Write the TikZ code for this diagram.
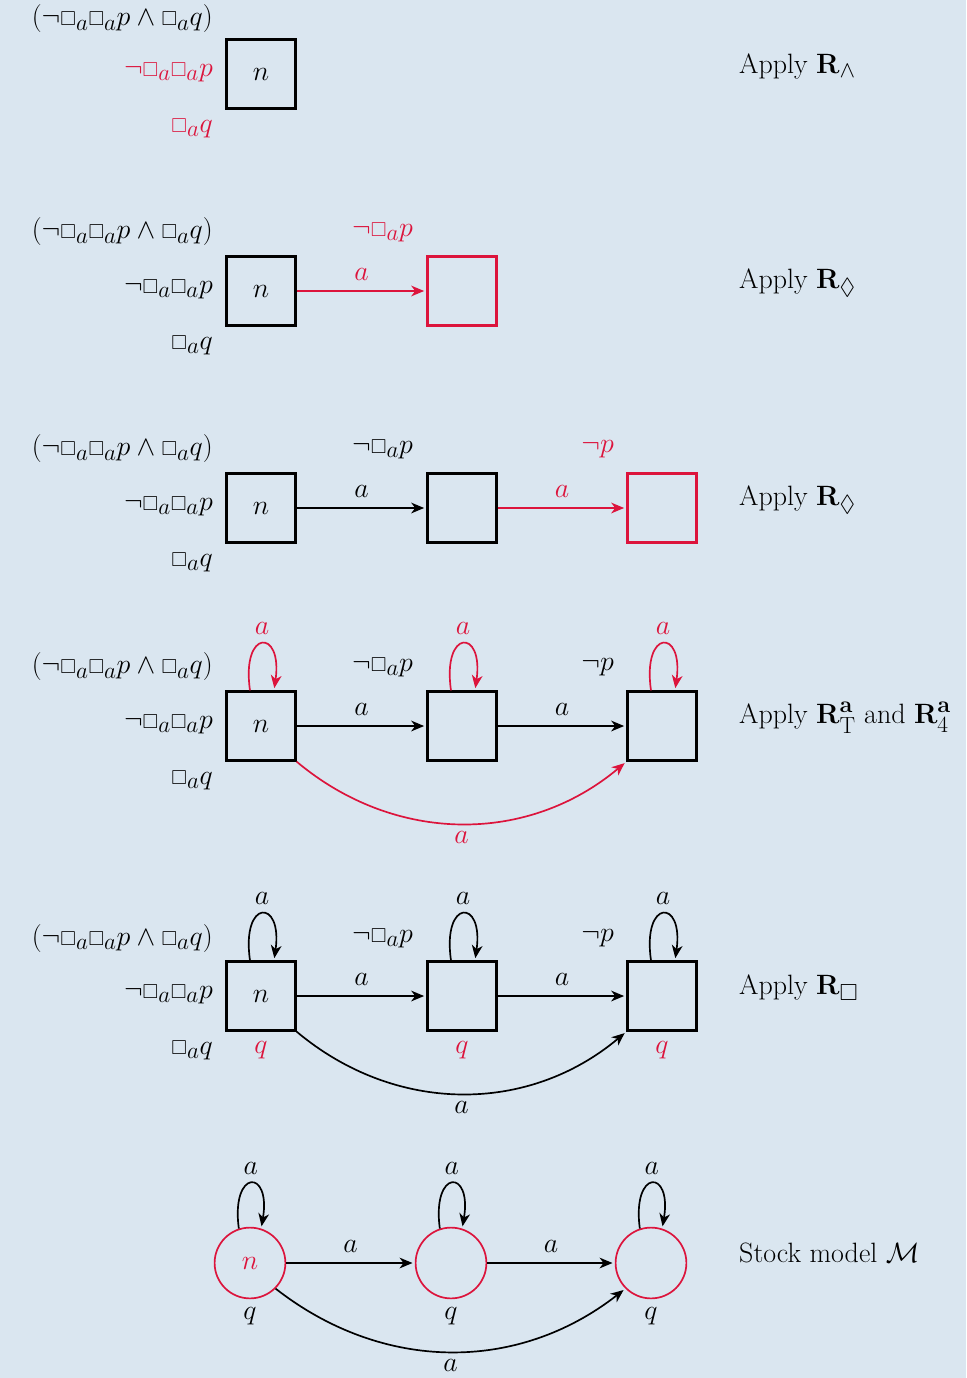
\documentclass[tikz,border=0pt]{standalone}
\usepackage{amsmath,amssymb}
\usepackage{graphicx}
\usetikzlibrary{arrows.meta,calc}
\definecolor{bg}{RGB}{218,230,240}
\definecolor{hl}{RGB}{220,20,60}
\newcommand{\bx}{\mathord{\scalebox{0.72}{$\Box$}}}
\tikzset{
  every node/.style={font=\fontsize{24.88}{30}\selectfont},
  st/.style={draw, line width=1.9pt, minimum size=61.5pt, inner sep=0pt},
  ci/.style={draw=hl, circle, line width=1.5pt, minimum size=63pt, inner sep=0pt},
  ar/.style={-{Stealth[length=11.5pt,width=9.5pt,inset=3.5pt]}, line width=1.5pt, shorten >=2pt},
  lbl/.style={inner sep=0pt},
  el/.style={inner sep=0pt, above=8.5pt},
  ll/.style={inner sep=0pt, pos=0.5, above=7.5pt},
  cl/.style={inner sep=0pt, pos=0.5, below=6.5pt},
}
\newcommand{\boxloop}[2]{\draw[ar,#2] ($(#1.north)+(-11,0)$) .. controls +(-9,62) and +(9,62) .. ($(#1.north)+(13,0)$) node[ll,text=#2] {$a$};}
\begin{document}
\begin{tikzpicture}[x=0.89pt,y=0.89pt]
\fill[bg] (0,0) rectangle (966,-1378);
\useasboundingbox (0,0) rectangle (966,-1378);

% ---- row 1
\node[st] (n1) at (261,-74) {$n$};
\node[lbl,anchor=east] (t1) at (213,-19) {$(\neg\bx_a\bx_a p\wedge\bx_a q)$};
\node[lbl,anchor=east,text=hl] (l1) at (213,-72) {$\neg\bx_a\bx_a p$};
\node[lbl,anchor=east,text=hl] (b1) at (213,-128) {$\bx_a q$};
\node[lbl,anchor=west] (ap1) at (739,-66) {Apply $\mathbf{R}_\wedge$};

% ---- row 2
\node[st] (n2) at (261,-291) {$n$};
\node[st,draw=hl] (m2) at (462,-291) {};
\node[lbl,anchor=east] (t2) at (213,-232) {$(\neg\bx_a\bx_a p\wedge\bx_a q)$};
\node[lbl,anchor=east] (l2) at (213,-289) {$\neg\bx_a\bx_a p$};
\node[lbl,anchor=east] (b2) at (213,-345) {$\bx_a q$};
\node[lbl,anchor=east,text=hl] (u2) at (413,-232) {$\neg\bx_a p$};
\draw[ar,hl] (n2) -- node[el,text=hl] {$a$} (m2);
\node[lbl,anchor=west] (ap2) at (739,-283) {Apply $\mathbf{R}_\Diamond$};

% ---- row 3
\node[st] (n3) at (261,-508) {$n$};
\node[st] (m3) at (462,-508) {};
\node[st,draw=hl] (r3) at (662,-508) {};
\node[lbl,anchor=east] (t3) at (213,-449) {$(\neg\bx_a\bx_a p\wedge\bx_a q)$};
\node[lbl,anchor=east] (l3) at (213,-506) {$\neg\bx_a\bx_a p$};
\node[lbl,anchor=east] (b3) at (213,-562) {$\bx_a q$};
\node[lbl,anchor=east] (u3) at (413,-449) {$\neg\bx_a p$};
\node[lbl,anchor=east,text=hl] (v3) at (614,-449) {$\neg p$};
\draw[ar] (n3) -- node[el] {$a$} (m3);
\draw[ar,hl] (m3) -- node[el,text=hl] {$a$} (r3);
\node[lbl,anchor=west] (ap3) at (739,-500) {Apply $\mathbf{R}_\Diamond$};

% ---- row 4
\node[st] (n4) at (261,-726) {$n$};
\node[st] (m4) at (462,-726) {};
\node[st] (r4) at (662,-726) {};
\node[lbl,anchor=east] (t4) at (213,-667) {$(\neg\bx_a\bx_a p\wedge\bx_a q)$};
\node[lbl,anchor=east] (l4) at (213,-724) {$\neg\bx_a\bx_a p$};
\node[lbl,anchor=east] (b4) at (213,-780) {$\bx_a q$};
\node[lbl,anchor=east] (u4) at (413,-667) {$\neg\bx_a p$};
\node[lbl,anchor=east] (v4) at (614,-667) {$\neg p$};
\draw[ar] (n4) -- node[el] {$a$} (m4);
\draw[ar] (m4) -- node[el] {$a$} (r4);
\boxloop{n4}{hl}
\boxloop{m4}{hl}
\boxloop{r4}{hl}
\draw[ar,hl] (n4.south east) to[out=-40,in=-140] node[cl,text=hl] {$a$} (r4.south west);
\node[lbl,anchor=west] (ap4) at (739,-718) {Apply $\mathbf{R}^{\mathbf{a}}_{\mathrm{T}}$ and $\mathbf{R}^{\mathbf{a}}_{4}$};

% ---- row 5
\node[st] (n5) at (261,-996) {$n$};
\node[st] (m5) at (462,-996) {};
\node[st] (r5) at (662,-996) {};
\node[lbl,anchor=east] (t5) at (213,-938) {$(\neg\bx_a\bx_a p\wedge\bx_a q)$};
\node[lbl,anchor=east] (l5) at (213,-994) {$\neg\bx_a\bx_a p$};
\node[lbl,anchor=east] (b5) at (213,-1050) {$\bx_a q$};
\node[lbl,anchor=east] (u5) at (413,-938) {$\neg\bx_a p$};
\node[lbl,anchor=east] (v5) at (614,-938) {$\neg p$};
\node[lbl,text=hl] (q5a) at (261,-1050) {$q$};
\node[lbl,text=hl] (q5b) at (462,-1050) {$q$};
\node[lbl,text=hl] (q5c) at (662,-1050) {$q$};
\draw[ar] (n5) -- node[el] {$a$} (m5);
\draw[ar] (m5) -- node[el] {$a$} (r5);
\boxloop{n5}{black}
\boxloop{m5}{black}
\boxloop{r5}{black}
\draw[ar] (n5.south east) to[out=-40,in=-140] node[cl] {$a$} (r5.south west);
\node[lbl,anchor=west] (ap5) at (739,-988) {Apply $\mathbf{R}_{\Box}$};

% ---- row 6
\node[ci,text=hl] (n6) at (250,-1263) {$n$};
\node[ci] (m6) at (451,-1263) {};
\node[ci] (r6) at (651,-1263) {};
\node[lbl] (q6a) at (250,-1316) {$q$};
\node[lbl] (q6b) at (451,-1316) {$q$};
\node[lbl] (q6c) at (651,-1316) {$q$};
\draw[ar] (n6) -- node[el] {$a$} (m6);
\draw[ar] (m6) -- node[el] {$a$} (r6);
\foreach \c in {n6,m6,r6}{
  \draw[ar] (\c.108) .. controls +(-8,60) and +(10,60) .. (\c.72) node[ll] {$a$};
}
\draw[ar] (n6.-45) to[out=-38,in=-142] node[cl] {$a$} (r6.-135);
\node[lbl,anchor=west] (ap6) at (739,-1253) {Stock model $\mathcal{M}$};
\end{tikzpicture}
\end{document}
